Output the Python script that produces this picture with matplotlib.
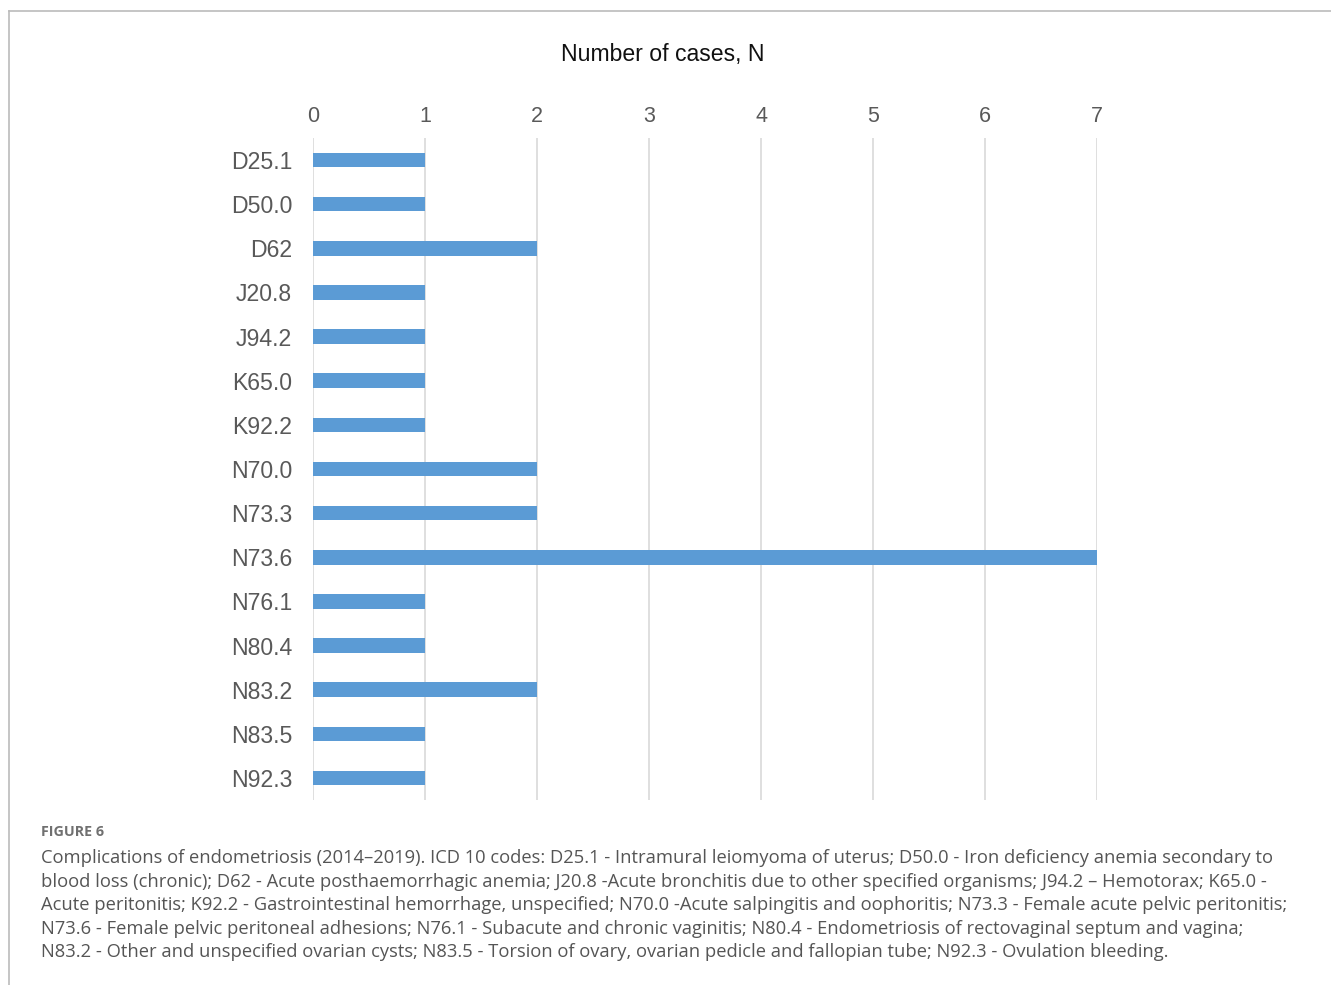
import matplotlib
matplotlib.use("Agg")
import matplotlib.pyplot as plt
from matplotlib.lines import Line2D

codes = ["D25.1", "D50.0", "D62", "J20.8", "J94.2", "K65.0", "K92.2", "N70.0",
         "N73.3", "N73.6", "N76.1", "N80.4", "N83.2", "N83.5", "N92.3"]
cases = [1, 1, 2, 1, 1, 1, 1, 2, 2, 7, 1, 1, 2, 1, 1]
x_ticks = [0, 1, 2, 3, 4, 5, 6, 7]

caption_lines = [
    "Complications of endometriosis (2014\u20132019). ICD 10 codes: D25.1 - Intramural leiomyoma of uterus; D50.0 - Iron deficiency anemia secondary to",
    "blood loss (chronic); D62 - Acute posthaemorrhagic anemia; J20.8 -Acute bronchitis due to other specified organisms; J94.2 \u2013 Hemotorax; K65.0 -",
    "Acute peritonitis; K92.2 - Gastrointestinal hemorrhage, unspecified; N70.0 -Acute salpingitis and oophoritis; N73.3 - Female acute pelvic peritonitis;",
    "N73.6 - Female pelvic peritoneal adhesions; N76.1 - Subacute and chronic vaginitis; N80.4 - Endometriosis of rectovaginal septum and vagina;",
    "N83.2 - Other and unspecified ovarian cysts; N83.5 - Torsion of ovary, ovarian pedicle and fallopian tube; N92.3 - Ovulation bleeding.",
]

W, H = 1331, 985
fig = plt.figure(figsize=(W / 100, H / 100), dpi=100)

ax = fig.add_axes([313 / W, 1 - 800 / H, (1097 - 313) / W, (800 - 138) / H])
pos = list(range(len(codes)))
ax.barh(pos, cases, height=0.33, color="#5B9BD5", zorder=3)
ax.set_ylim(len(codes) - 0.5, -0.5)
ax.set_xlim(0, 7)
ax.set_yticks(pos)
ax.set_yticklabels(codes, fontsize=16.6, color="#595959", family="Liberation Sans")
ax.set_xticks(x_ticks)
ax.set_xticklabels([str(t) for t in x_ticks], fontsize=15.5, color="#595959",
                   family="Liberation Sans")
ax.xaxis.tick_top()
ax.tick_params(axis="both", length=0)
ax.tick_params(axis="x", pad=8)
ax.tick_params(axis="y", pad=15)
ax.grid(axis="x", color="#D9D9D9", linewidth=1.2, zorder=0)
for s in ax.spines.values():
    s.set_visible(False)

fig.text(663 / W, 1 - 54 / H, "Number of cases, N", ha="center", va="center",
         fontsize=16.6, color="#111111", family="Liberation Sans")

# figure frame
fig.add_artist(Line2D([9 / W, 9 / W], [0, 1 - 11 / H], transform=fig.transFigure,
                      color="#BBBBBB", linewidth=1.2))
fig.add_artist(Line2D([9 / W, 1], [1 - 11 / H, 1 - 11 / H], transform=fig.transFigure,
                      color="#BBBBBB", linewidth=1.2))

fig.text(41 / W, 1 - 832 / H, "FIGURE 6", ha="left", va="center", fontsize=10.3,
         fontweight="bold", color="#707070", family="Open Sans")
for i, line in enumerate(caption_lines):
    fig.text(41 / W, 1 - (858 + i * 23.6) / H, line, ha="left", va="center",
             fontsize=13.2, color="#555555", family="Open Sans")

fig.savefig("out.png", dpi=100)
